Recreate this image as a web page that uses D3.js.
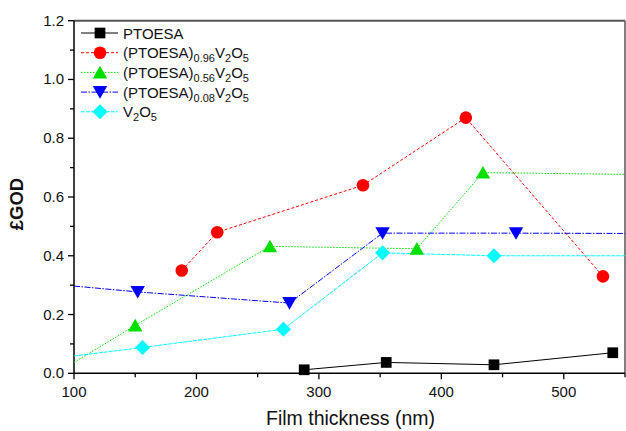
<!DOCTYPE html>
<html><head><meta charset="utf-8">
<script src="https://cdn.jsdelivr.net/npm/d3@7/dist/d3.min.js"></script>
<style>body{margin:0;background:#fff}svg{display:block}text{font-family:"Liberation Sans",Arial,sans-serif}</style>
</head><body>
<script>
// Data: [x, y, showMarker]
const ptoesa = [[288,0.012,1],[355,0.037,1],[443,0.029,1],[540,0.07,1]];
const p096 = [[188,0.35,1],[217,0.48,1],[336,0.64,1],[420,0.87,1],[532,0.33,1]];
const p056 = [[100,0.037,0],[150,0.163,1],[260,0.432,1],[380,0.424,1],[434,0.683,1],[550,0.677,0]];
const p008 = [[100,0.297,0],[152,0.277,1],[276,0.239,1],[352,0.477,1],[461,0.477,1],[550,0.476,0]];
const v2o5 = [[100,0.059,0],[156,0.088,1],[271,0.15,1],[352,0.41,1],[443,0.40,1],[550,0.40,0]];
const xTicks = [100,200,300,400,500];
const yTicks = [0.0,0.2,0.4,0.6,0.8,1.0,1.2];
const seriesNames = ["PTOESA","(PTOESA)|0.96|V|2|O|5","(PTOESA)|0.56|V|2|O|5","(PTOESA)|0.08|V|2|O|5","V|2|O|5"];

const W=626,H=431;
const m={l:74,r:625,t:20.7,b:373.3};
const svg=d3.select("body").append("svg").attr("width",W).attr("height",H);
const x=d3.scaleLinear().domain([100,550]).range([m.l,m.r]);
const y=d3.scaleLinear().domain([0,1.2]).range([m.b,m.t]);

const series=[
 {data:ptoesa,color:"#000",dash:null,sym:"square",lw:1},
 {data:p096,color:"#ff0000",dash:"3,2",sym:"circle",lw:1},
 {data:p056,color:"#00e000",dash:"1.5,1.5",sym:"tri",lw:1},
 {data:p008,color:"#0000ff",dash:"6,1.5,1.5,1.5",sym:"dtri",lw:1},
 {data:v2o5,color:"#00ffff",dash:"4,1",sym:"diamond",lw:1}
];

// frame
svg.append("line").attr("x1",m.l).attr("x2",m.r).attr("y1",m.t).attr("y2",m.t).attr("stroke","#555").attr("stroke-width",2);
svg.append("line").attr("x1",m.r).attr("x2",m.r).attr("y1",m.t).attr("y2",m.b).attr("stroke","#555").attr("stroke-width",1.5);

// axes
const gx=svg.append("g").attr("transform",`translate(0,${m.b})`);
gx.append("line").attr("x1",m.l).attr("x2",m.r).attr("stroke","#000").attr("stroke-width",1.5);
gx.selectAll(".tk").data(d3.range(100,551,50)).join("line").attr("x1",d=>x(d)).attr("x2",d=>x(d)).attr("y1",0).attr("y2",d=>d%100===0?6:4).attr("stroke","#000").attr("stroke-width",1.3);
gx.selectAll(".tl").data(xTicks).join("text").attr("x",d=>x(d)).attr("y",24).attr("text-anchor","middle").attr("font-size",15).attr("fill","#111").text(d=>d);

const gy=svg.append("g");
gy.append("line").attr("x1",m.l).attr("x2",m.l).attr("y1",m.t).attr("y2",m.b).attr("stroke","#000").attr("stroke-width",1.5);
gy.selectAll(".tk").data(d3.range(0,13).map(i=>i/10)).join("line").attr("x1",m.l).attr("x2",(d,i)=>m.l-(i%2===0?6:4)).attr("y1",d=>y(d)).attr("y2",d=>y(d)).attr("stroke","#000").attr("stroke-width",1.3);
gy.selectAll(".tl").data(yTicks).join("text").attr("x",m.l-10).attr("y",d=>y(d)+5).attr("text-anchor","end").attr("font-size",15).attr("fill","#111").text(d=>d.toFixed(1));

svg.append("text").attr("x",(m.l+m.r)/2+1).attr("y",425).attr("text-anchor","middle").attr("font-size",19.5).attr("fill","#111").text("Film thickness (nm)");
svg.append("text").attr("transform","translate(23,204) rotate(-90)").attr("text-anchor","middle").attr("font-size",18.5).attr("font-weight","bold").attr("fill","#111").text("£GOD");

function symbol(g,type,cx,cy,color,s){
  if(type==="square") g.append("rect").attr("x",cx-s*0.85).attr("y",cy-s*0.85).attr("width",s*1.7).attr("height",s*1.7).attr("fill",color);
  else if(type==="circle") g.append("circle").attr("cx",cx).attr("cy",cy).attr("r",s).attr("fill",color);
  else if(type==="tri") g.append("path").attr("d",`M${cx},${cy-s*1.05}L${cx+s*1.15},${cy+s*0.95}L${cx-s*1.15},${cy+s*0.95}Z`).attr("fill",color);
  else if(type==="dtri") g.append("path").attr("d",`M${cx},${cy+s*1.05}L${cx+s*1.15},${cy-s*0.95}L${cx-s*1.15},${cy-s*0.95}Z`).attr("fill",color);
  else if(type==="diamond") g.append("path").attr("d",`M${cx},${cy-s*1.2}L${cx+s*1.2},${cy}L${cx},${cy+s*1.2}L${cx-s*1.2},${cy}Z`).attr("fill",color);
}

const line=d3.line().x(d=>x(d[0])).y(d=>y(d[1]));
series.forEach(s=>{
  svg.append("path").datum(s.data).attr("d",line).attr("fill","none").attr("stroke",s.color).attr("stroke-width",s.lw).attr("stroke-dasharray",s.dash);
});
series.forEach(s=>{
  const g=svg.append("g");
  s.data.filter(d=>d[2]).forEach(d=>symbol(g,s.sym,x(d[0]),y(d[1]),s.color,6.3));
});

// legend
const lg=svg.append("g");
seriesNames.forEach((name,i)=>{
  const s=series[i];
  const cy=33+i*19.7;
  lg.append("line").attr("x1",81).attr("x2",118).attr("y1",cy).attr("y2",cy).attr("stroke",s.color).attr("stroke-width",1).attr("stroke-dasharray",s.dash);
  symbol(lg,s.sym,100,cy,s.color,6.3);
  const t=lg.append("text").attr("x",123).attr("y",cy+5.5).attr("font-size",15).attr("fill","#111");
  const parts=name.split("|");
  parts.forEach((p,j)=>{
    const ts=t.append("tspan").text(p);
    if(j%2===1){ts.attr("font-size",11).attr("dy",4);} else if(j>0){ts.attr("dy",-4);}
  });
});
</script>
</body></html>
